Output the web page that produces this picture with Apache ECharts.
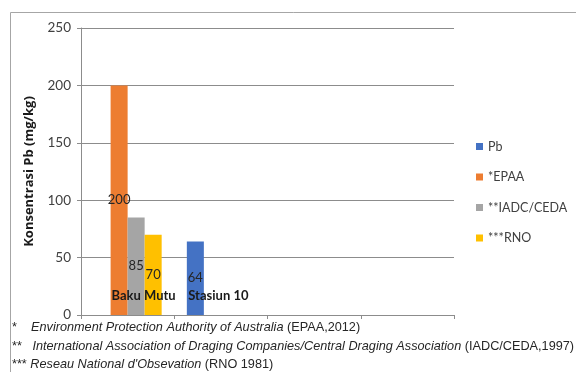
<!DOCTYPE html>
<html>
<head>
<meta charset="utf-8">
<script src="https://cdn.jsdelivr.net/npm/echarts@6/dist/echarts.min.js"></script>
<style>
  html, body { margin: 0; padding: 0; background: #ffffff; }
  #chart { width: 576px; height: 372px; }
</style>
</head>
<body>
<div id="chart"></div>
<script>
// Categories on the x axis (two real groups plus two empty slots)
const categories = ['Baku Mutu', 'Stasiun 10', '', ''];

// Lead concentration (mg/kg) per series
const pbValues   = [null, 64, null, null];
const epaaValues = [200, null, null, null];
const iadcValues = [85, null, null, null];
const rnoValues  = [70, null, null, null];

const seriesNames = ['Pb', '*EPAA', '**IADC/CEDA', '***RNO'];
const seriesColors = ['#4472C4', '#ED7D31', '#A5A5A5', '#FFC000'];

// Y axis ticks
const yTicks = [0, 50, 100, 150, 200, 250];

const FONT = 'Lato, "Open Sans", sans-serif';
const TEXT = '#404040';
const NOTE_FONT = 'Liberation Sans';
const NOTE_SIZE = 12.7;

const chart = echarts.init(document.getElementById('chart'), null, { renderer: 'canvas' });

const seriesData = [pbValues, epaaValues, iadcValues, rnoValues];

const series = seriesData.map((vals, i) => ({
  name: seriesNames[i],
  type: 'bar',
  data: vals,
  barGap: '0%',
  barCategoryGap: '27%',
  itemStyle: { color: seriesColors[i] },
  label: {
    show: true,
    position: 'inside',
    color: '#262626',
    fontFamily: FONT,
    fontSize: 13,
    formatter: p => p.value
  }
}));

const noteRich = {
  a: { fontFamily: NOTE_FONT, fontSize: NOTE_SIZE, fill: '#262626' },
  i: { fontFamily: NOTE_FONT, fontStyle: 'italic', fontSize: NOTE_SIZE, fill: '#262626' },
  n: { fontFamily: NOTE_FONT, fontSize: NOTE_SIZE, fill: '#262626' }
};

const option = {
  backgroundColor: '#ffffff',
  animation: false,
  grid: { left: 81, right: 122, top: 28, bottom: 57, containLabel: false },
  legend: {
    orient: 'vertical',
    left: 471,
    top: 135,
    itemWidth: 7,
    itemHeight: 7,
    itemGap: 17.5,
    icon: 'rect',
    data: seriesNames,
    textStyle: { color: TEXT, fontFamily: FONT, fontSize: 12.5 }
  },
  xAxis: {
    type: 'category',
    data: categories,
    axisLine: { show: true, lineStyle: { color: '#8c8c8c', width: 1 } },
    axisTick: { show: true, length: 4, lineStyle: { color: '#8c8c8c' } },
    axisLabel: {
      interval: 0,
      margin: -26,
      color: '#1a1a1a',
      fontFamily: FONT,
      fontWeight: 'bold',
      fontSize: 13,
      formatter: v => v === categories[0] ? '{l|' + v + '}' : '{r|' + v + '}',
      rich: {
        l: { padding: [0, 0, 0, 32], fontWeight: 'bold', fontSize: 13, fontFamily: FONT, color: '#1a1a1a' },
        r: { padding: [0, 5, 0, 0], fontWeight: 'bold', fontSize: 13, fontFamily: FONT, color: '#1a1a1a' }
      }
    },
    z: 10
  },
  yAxis: {
    type: 'value',
    min: yTicks[0],
    max: yTicks[yTicks.length - 1],
    interval: 50,
    name: 'Konsentrasi Pb (mg/kg)',
    nameLocation: 'middle',
    nameGap: 45,
    nameTextStyle: { color: '#1a1a1a', fontFamily: '"Open Sans", sans-serif', fontWeight: 'bold', fontSize: 13 },
    axisLine: { show: true, lineStyle: { color: '#8c8c8c' } },
    axisTick: { show: true, length: 4, lineStyle: { color: '#8c8c8c' } },
    axisLabel: { margin: 10, color: TEXT, fontFamily: FONT, fontSize: 13.5 },
    splitLine: { show: true, lineStyle: { color: '#8c8c8c', width: 1 } }
  },
  series: series,
  graphic: [
    {
      type: 'rect',
      left: 8, top: 10,
      shape: { width: 620, height: 420 },
      style: { fill: 'none', stroke: '#a6a6a6', lineWidth: 1 },
      silent: true
    },
    {
      type: 'text',
      left: 12, top: 321,
      style: {
        text: '{a|*}{i|    Environment Protection Authority of Australia }{n|(EPAA,2012)}',
        rich: noteRich
      }
    },
    {
      type: 'text',
      left: 12, top: 340,
      style: {
        text: '{a|**}{i|   International Association of Draging Companies/Central Draging Association }{n|(IADC/CEDA,1997)}',
        rich: noteRich
      }
    },
    {
      type: 'text',
      left: 12, top: 358,
      style: {
        text: '{a|***}{i| Reseau National d\'Obsevation }{n|(RNO 1981)}',
        rich: noteRich
      }
    }
  ]
};

chart.setOption(option);
</script>
</body>
</html>
